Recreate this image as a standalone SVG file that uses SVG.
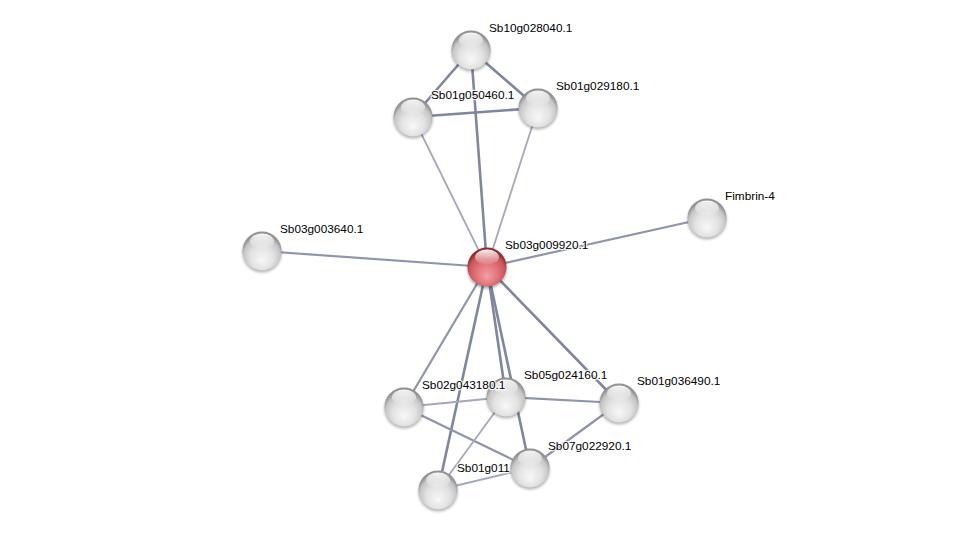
<svg xmlns="http://www.w3.org/2000/svg" width="976" height="535" viewBox="0 0 976 535">
<defs>
<radialGradient id="gGray" cx="0.5" cy="0.62" r="0.55" fx="0.5" fy="0.75">
<stop offset="0" stop-color="#f8f8f8"/>
<stop offset="0.55" stop-color="#e2e2e2"/>
<stop offset="0.85" stop-color="#c6c6c6"/>
<stop offset="1" stop-color="#929292"/>
</radialGradient>
<radialGradient id="gRed" cx="0.5" cy="0.62" r="0.55" fx="0.5" fy="0.75">
<stop offset="0" stop-color="#f2a0a4"/>
<stop offset="0.55" stop-color="#df7075"/>
<stop offset="0.85" stop-color="#c9545a"/>
<stop offset="1" stop-color="#8e2e33"/>
</radialGradient>
<linearGradient id="gHi" x1="0" y1="0" x2="0" y2="1">
<stop offset="0" stop-color="#ffffff" stop-opacity="0.95"/>
<stop offset="1" stop-color="#ffffff" stop-opacity="0.05"/>
</linearGradient>
<filter id="shadow" x="-50%" y="-50%" width="200%" height="200%">
<feGaussianBlur stdDeviation="1.6"/>
</filter>
<g id="sph">
<circle cx="0" cy="2" r="19.5" fill="#000" opacity="0.3" filter="url(#shadow)"/>
<circle cx="0" cy="0" r="19.5" fill="url(#gGray)"/>
<ellipse cx="0" cy="-10" rx="12" ry="7.5" fill="url(#gHi)"/>
</g>
<g id="sphR">
<circle cx="0" cy="2" r="19.5" fill="#000" opacity="0.35" filter="url(#shadow)"/>
<circle cx="0" cy="0" r="19.5" fill="url(#gRed)"/>
<ellipse cx="0" cy="-10" rx="12" ry="7.5" fill="url(#gHi)"/>
</g>
</defs>
<style>
.e{stroke:#7f869e;stroke-width:2.6;fill:none;stroke-linecap:round}
.m{stroke:#8e94aa;stroke-width:2.2;fill:none;stroke-linecap:round}
.l{stroke:#a3a8bb;stroke-width:1.8;fill:none;stroke-linecap:round}
text{font-family:"Liberation Sans",Arial,sans-serif;font-size:11.8px;fill:#000;stroke:#fff;stroke-width:2.5px;stroke-opacity:0.8;paint-order:stroke;stroke-linejoin:round}
</style>
<rect width="976" height="535" fill="#ffffff"/>
<g id="edges">
<line class="e" x1="471" y1="50" x2="413" y2="117"/>
<line class="e" x1="471" y1="50" x2="538" y2="108"/>
<line class="e" x1="471" y1="50" x2="487" y2="267"/>
<line class="e" x1="413" y1="117" x2="538" y2="108"/>
<line class="l" x1="413" y1="117" x2="487" y2="267"/>
<line class="l" x1="538" y1="108" x2="487" y2="267"/>
<line class="m" x1="487" y1="267" x2="707" y2="218"/>
<line class="m" x1="487" y1="267" x2="262" y2="251"/>
<line class="m" x1="487" y1="267" x2="404" y2="407"/>
<line class="e" x1="487" y1="267" x2="438" y2="490"/>
<line class="e" x1="487" y1="267" x2="506" y2="397"/>
<line class="e" x1="487" y1="267" x2="530" y2="468"/>
<line class="e" x1="487" y1="267" x2="619" y2="403"/>
<line class="l" x1="404" y1="407" x2="506" y2="397"/>
<line class="m" x1="404" y1="407" x2="530" y2="468"/>
<line class="m" x1="506" y1="397" x2="619" y2="403"/>
<line class="l" x1="506" y1="397" x2="438" y2="490"/>
<line class="m" x1="619" y1="403" x2="530" y2="468"/>
<line class="l" x1="438" y1="490" x2="530" y2="468"/>
</g>
<g id="n_Sb10g028040"><use href="#sph" x="471" y="50"/><text x="489" y="32">Sb10g028040.1</text></g>
<g id="n_Sb01g050460"><use href="#sph" x="413" y="117"/><text x="431" y="99">Sb01g050460.1</text></g>
<g id="n_Sb01g029180"><use href="#sph" x="538" y="108"/><text x="556" y="90">Sb01g029180.1</text></g>
<g id="n_Fimbrin4"><use href="#sph" x="707" y="218"/><text x="725" y="200">Fimbrin-4</text></g>
<g id="n_Sb03g003640"><use href="#sph" x="262" y="251"/><text x="280" y="233">Sb03g003640.1</text></g>
<g id="n_Sb03g009920"><use href="#sphR" x="487" y="267"/><text x="505" y="249">Sb03g009920.1</text></g>
<g id="n_Sb05g024160"><use href="#sph" x="506" y="397"/><text x="524" y="379">Sb05g024160.1</text></g>
<g id="n_Sb02g043180"><use href="#sph" x="404" y="407"/><text x="422" y="389">Sb02g043180.1</text></g>
<g id="n_Sb01g036490"><use href="#sph" x="619" y="403"/><text x="637" y="385">Sb01g036490.1</text></g>
<g id="n_Sb01g011"><use href="#sph" x="438" y="490"/><text x="457" y="472">Sb01g011</text></g>
<g id="n_Sb07g022920"><use href="#sph" x="530" y="468"/><text x="548" y="450">Sb07g022920.1</text></g>
</svg>
